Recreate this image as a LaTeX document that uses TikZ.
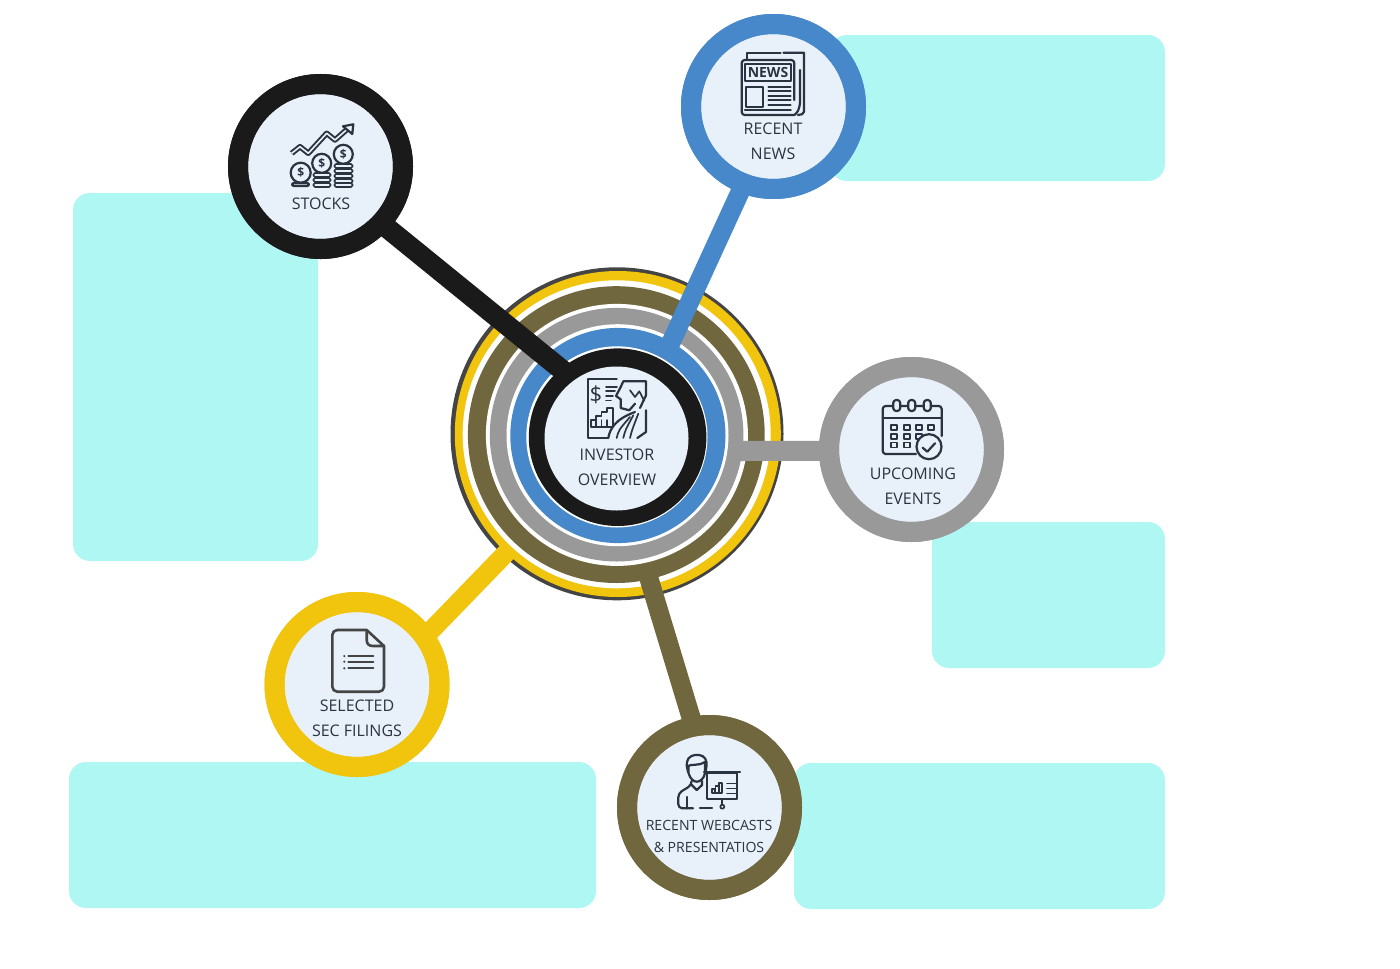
\documentclass[tikz,border=0pt]{standalone}
\usepackage{fontspec}
\setmainfont{Open Sans}
\definecolor{panelcyan}{HTML}{AEF7F2}
\definecolor{discblue}{HTML}{E8F0FA}
\definecolor{inkblack}{HTML}{1A1A1A}
\definecolor{newsblue}{HTML}{4688C9}
\definecolor{eventgray}{HTML}{999999}
\definecolor{castolive}{HTML}{70673E}
\definecolor{fileyellow}{HTML}{F1C40E}
\definecolor{edgedark}{HTML}{444444}
\definecolor{labelink}{HTML}{2A3440}
\tikzset{
  panel/.style={fill=panelcyan, rounded corners=17pt},
  satellite/.style={circle, draw=#1, fill=discblue, line width=20pt, minimum size=165pt, inner sep=0pt, outer sep=0pt},
  spoke/.style={draw=#1, line width=19pt},
  satlabel/.style={font=\fontsize{16}{25}\selectfont, text=labelink, align=center, inner sep=0pt},
  icon/.style={draw=labelink, line width=2.2pt, line join=round, line cap=round},
}
\begin{document}
\begin{tikzpicture}[x=1pt, y=-1pt]
    \useasboundingbox (0,0) rectangle (1400,969);
    % empty panels behind the discs
    \fill[panel] (73,193) rectangle (318,561);
    \fill[panel] (830,35) rectangle (1165,181);
    \fill[panel] (932,522) rectangle (1165,668);
    \fill[panel] (69,762) rectangle (596,908);
    \fill[panel] (794,763) rectangle (1165,909);
    % rings of the hub, stacked discs that drift a little downwards
    \foreach \cx/\cy/\rad/\col in {617/433.8/166.5/edgedark, 617.8/434/163/fileyellow, 616.7/434.3/154/white,
        616.3/434.6/148.4/castolive, 616.9/434.9/131/white, 616.6/434.7/126.8/eventgray, 617.5/435.2/111/white,
        617.9/435.5/107.6/newsblue, 616.9/436.9/90.6/white, 617.6/437.2/88.8/inkblack}
      \fill[\col] (\cx,\cy) circle (\rad pt);
    % spoke ends on the rings
    \coordinate (hubstocks) at (567,374);
    \coordinate (hubnews) at (668,349);
    \coordinate (hubevents) at (735,451);
    \coordinate (hubfilings) at (508,551);
    \coordinate (hubcasts) at (647,572);
    % discs
    \node[circle, fill=discblue, minimum size=144pt, inner sep=0pt] (hub) at (616.5,438.5) {};
    \node[satellite=inkblack] (stocks) at (320.5,166.5) {};
    \node[satellite=newsblue] (news) at (773.5,106.5) {};
    \node[satellite=eventgray] (events) at (911.5,449.5) {};
    \node[satellite=fileyellow] (filings) at (357,684.5) {};
    \node[satellite=castolive] (casts) at (709.5,807.5) {};
    % spokes, then the discs once more on top of them
    \draw[spoke=fileyellow] (filings.35.6) -- (hubfilings);
    \draw[spoke=castolive] (casts.101) -- (hubcasts);
    \draw[spoke=eventgray, line width=20pt] (events.181) -- (hubevents);
    \draw[spoke=newsblue] (news.-111) -- (hubnews);
    \draw[spoke=inkblack, line width=20.5pt] (stocks.-43.6) -- (hubstocks);
    \foreach \disc/\col in {stocks/inkblack, news/newsblue, events/eventgray, filings/fileyellow, casts/castolive}
      \draw[line width=20pt, draw=\col] (\disc) circle (82.5pt);
    % labels
    \node[satlabel] (hublabel) at (617,467.5) {INVESTOR\\OVERVIEW};
    \node[satlabel] (stockslabel) at (321,204) {STOCKS};
    \node[satlabel] (newslabel) at (773,141.5) {RECENT\\NEWS};
    \node[satlabel] (eventslabel) at (913,486.5) {UPCOMING\\EVENTS};
    \node[satlabel] (filingslabel) at (357,718.5) {SELECTED\\SEC FILINGS};
    \node[satlabel, font=\fontsize{14.1}{22}\selectfont] (castslabel) at (709,836) {RECENT WEBCASTS\\\& PRESENTATIOS};
    % hub icon: report and profile
    \draw[icon] (616.7,379.3) -- (588.3,379.3) -- (588.3,438) -- (608,438);
    \node[font=\fontsize{22}{22}\selectfont, text=labelink, inner sep=0pt] (hubdollar) at (596,394.5) {\$};
    \foreach \ya/\xb in {387/617, 391.3/615, 396/613, 400.5/611}
      \draw[icon, line width=1.7pt] (606,\ya) -- (\xb,\ya);
    \draw[icon, line width=1.8pt] (591,427) -- (591,420) -- (596,420) -- (596,416) -- (601.5,416) -- (601.5,412) -- (607,412) -- (607,408) -- (613,408) -- (613,427) -- cycle;
    \foreach \xa in {596,601.5,607}
      \draw[icon, line width=1.5pt] (\xa,420) -- (\xa,427);
    \draw[icon] (623.3,381.3) -- (646,381.3) -- (646,395.3) -- (640,408);
    \draw[icon] (623.3,381.3) -- (620.7,387) -- (616,396) -- (620.7,399.3) -- (620.7,408) -- (629.3,410.3) -- (635,403.7);
    \draw[icon, line width=1.7pt] (630,390.3) -- (635,397) -- (639.3,391.3) -- (644,400.3);
    \draw[icon] (608.3,438) .. controls (610,428) and (616,419) .. (635,412);
    \draw[icon] (646,410.3) -- (646,432) -- (637.3,438);
    \foreach \xa/\xb/\yb in {616.7/630/417, 623.3/633.3/415.3, 630/638.3/413.7}
      \draw[icon, line width=1.7pt] (\xa,438) .. controls (\xa+2,430) .. (\xb,\yb);
    % stocks icon
    \foreach \cx/\cy/\rad/\cname in {300.7/172.7/10/coina, 321.7/163.3/9.5/coinb, 343.3/154.3/9.5/coinc} {
      \draw[icon] (\cx,\cy) circle (\rad pt);
      \node[font=\bfseries\fontsize{12}{12}\selectfont, text=labelink, inner sep=0pt] (\cname) at (\cx,\cy) {\$};
    }
    \draw[icon, rounded corners=1.5pt] (292,183) rectangle (309,186);
    \foreach \ya in {175,180,185} \draw[icon, rounded corners=1.5pt, line width=1.7pt] (313.5,\ya-2) rectangle (330.5,\ya+2);
    \foreach \ya in {166,171,176,181,185} \draw[icon, rounded corners=1.5pt, line width=1.7pt] (334.5,\ya-2) rectangle (352.5,\ya+2);
    \draw[icon, line width=5.5pt, line cap=butt] (291.7,153.3) -- (300,146.7) -- (308.3,153.3) -- (326.7,133.3) -- (335,140) -- (348,128.5);
    \draw[discblue, line width=1.6pt, line cap=butt, line join=round] (291.7,153.3) -- (300,146.7) -- (308.3,153.3) -- (326.7,133.3) -- (335,140) -- (348,128.5);
    \draw[icon, fill=discblue] (353.3,124.3) -- (343,126.3) -- (352.3,134) -- cycle;
    % news icon
    \draw[icon] (746.7,60) -- (746.7,52.7) -- (780.5,52.7);
    \draw[icon] (783.5,52.7) -- (804,52.7) -- (804,111.7) .. controls (804,114) and (801,115) .. (798,115);
    \draw[icon] (794.3,115) .. controls (797,113) and (800,110) .. (800,100) -- (800,70);
    \draw[icon, rounded corners=3pt] (794.3,115) -- (741.7,115) -- (741.7,60) -- (794.3,60) -- (794.3,100);
    \draw[icon] (745,64.3) rectangle (790.7,80.7);
    \node[font=\bfseries\fontsize{14}{14}\selectfont, text=labelink, inner sep=0pt] (newsword) at (768,72.5) {NEWS};
    \draw[icon] (746,86.7) rectangle (763.3,106.7);
    \foreach \ya in {86.7,91,95.7,100,105}
      \draw[icon, line width=1.6pt] (768.3,\ya) -- (790.7,\ya);
    \draw[icon] (745,110) -- (790.7,110);
    % calendar icon
    \draw[icon, rounded corners=3pt] (916,454) -- (882.7,454) -- (882.7,406) -- (941.7,406) -- (941.7,436);
    \draw[icon] (882.7,418.3) -- (941.7,418.3);
    \foreach \cx in {896.7,911.7,927.3}
      \draw[icon, fill=discblue, rounded corners=3pt] (\cx-3.5,400) rectangle (\cx+3.5,411);
    \foreach \cx/\cy in {894/427.7, 906.7/427.7, 919/427.7, 930.7/427.7, 894/436.7, 906.7/436.7, 919/436.7, 894/445, 906.7/445}
      \draw[icon, line width=1.7pt] (\cx-3,\cy-2.5) rectangle (\cx+3,\cy+2.5);
    \draw[icon, fill=discblue] (929,446.7) circle (12.5pt);
    \draw[icon] (922.7,447.7) -- (927.3,451.7) -- (935,443.3);
    % filing icon
    \draw[icon, draw=edgedark, line width=2.6pt, rounded corners=5pt] (384,646) -- (384,691.7) -- (332.3,691.7) -- (332.3,630) -- (366.7,630);
    \draw[icon, draw=edgedark, line width=2.6pt] (366.7,630) -- (384,646);
    \draw[icon, draw=edgedark, line width=2.6pt] (366.7,630) -- (366.7,640) .. controls (366.7,644) and (369,646) .. (373,646) -- (384,646);
    \foreach \ya in {656,661.7,668.3} {
      \draw[icon, draw=edgedark, line width=2pt] (348.3,\ya) -- (373.3,\ya);
      \fill[edgedark] (344.3,\ya) circle (1.2pt);
    }
    % presenter icon
    \draw[icon, rounded corners=4pt] (688,772) -- (686,762) -- (691,755) -- (703,755) -- (707.3,762) -- (705.5,772);
    \draw[icon] (688,766) .. controls (690,764) and (700,766) .. (705,762);
    \draw[icon] (688.5,766) -- (688.5,773) .. controls (690,779) and (694,781.7) .. (696.7,781.7) .. controls (700,781.7) and (704,779) .. (705,773) -- (705,762);
    \draw[icon, rounded corners=4pt] (691.7,781) -- (691.7,785) -- (678.3,793.3) -- (678.3,808.3) -- (693,808.3);
    \draw[icon] (700,808.3) -- (712,808.3);
    \draw[icon] (687.3,797) -- (687.3,808.3);
    \draw[icon] (691.7,785) -- (696.7,790) -- (702,785) -- (702,781);
    \draw[icon, fill=discblue] (707.3,773) rectangle (737.3,799.3);
    \draw[icon] (704,772) -- (740,772);
    \draw[icon, line width=1.7pt] (722.3,799.3) -- (722.3,804.5);
    \draw[icon, line width=1.7pt] (722.3,806.7) circle (2pt);
    \foreach \xa/\ya in {712/789, 715.5/786, 719/783}
      \draw[icon, line width=1.5pt] (\xa,793) rectangle (\xa+3,\ya);
    \foreach \ya in {783.5,788.5,793.5}
      \draw[icon, line width=1.6pt] (727,\ya) -- (737,\ya);
\end{tikzpicture}
\end{document}
